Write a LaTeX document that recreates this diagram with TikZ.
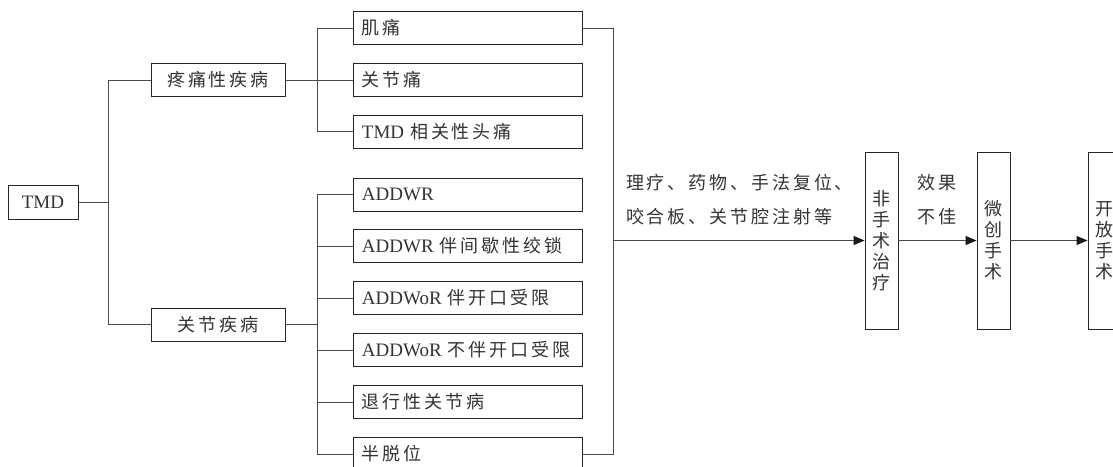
\documentclass[tikz,border=0pt]{standalone}
\usepackage{fontspec}
\setmainfont{Liberation Serif}
\newfontfamily\cjk[LetterSpace=16]{Noto Sans CJK SC}
\usetikzlibrary{arrows.meta,calc}
\newcommand\lat[1]{{\fontsize{19}{21}\selectfont #1}}
\begin{document}
\begin{tikzpicture}[x=1pt,y=-1pt,
 line/.style={draw=black!70, line width=0.9pt},
 box/.style={draw=black!85, line width=0.9pt, rectangle, inner sep=0pt, text=black!80, font=\fontsize{18}{21}\selectfont},
 cbox/.style={box, minimum height=33pt, text width=212pt, inner xsep=8.5pt, align=left, anchor=west},
 vbox/.style={box, minimum width=33pt, minimum height=177pt, align=center, text width=18pt},
 lab/.style={text=black!80, inner sep=0pt, font=\fontsize{18}{34}\selectfont\cjk},
 arr/.style={line, -{Triangle[length=11pt,width=9pt,color=black!90]}}]
\useasboundingbox (0,0) rectangle (1113,466);
\node[box, minimum width=70pt, minimum height=34pt] (tmd) at (43,202) {\lat{TMD}};
\node[box, minimum width=134pt, minimum height=33pt] (pain) at (218,80) {\cjk 疼痛性疾病};
\node[box, minimum width=134pt, minimum height=33pt] (joint) at (218,324.5) {\cjk 关节疾病};
\node[cbox] (c1) at (353,28) {\cjk 肌痛};
\node[cbox] (c2) at (353,80) {\cjk 关节痛};
\node[cbox] (c3) at (353,131.5) {\lat{TMD} {\cjk 相关性头痛}};
\node[cbox] (c4) at (353,194.5) {\lat{ADDWR}};
\node[cbox] (c5) at (353,246) {\lat{ADDWR} {\cjk 伴间歇性绞锁}};
\node[cbox] (c6) at (353,298) {\lat{ADDWoR} {\cjk 伴开口受限}};
\node[cbox] (c7) at (353,350) {\lat{ADDWoR} {\cjk 不伴开口受限}};
\node[cbox] (c8) at (353,402) {\cjk 退行性关节病};
\node[cbox] (c9) at (353,454) {\cjk 半脱位};
\node[vbox] (b1) at (881.5,240.5) {\cjk 非\\手\\术\\治\\疗};
\node[vbox] (b2) at (993.5,240.5) {\cjk 微\\创\\手\\术};
\node[vbox] (b3) at (1104.5,240.5) {\cjk 开\\放\\手\\术};
\node[lab, align=left] (l1) at (739.5,200) {理疗、药物、手法复位、\\咬合板、关节腔注射等};
\node[lab, align=center] (l2) at (937,200) {效果\\不佳};
\draw[line] (tmd.east) -- ++(30,0) coordinate (t1);
\draw[line] (t1) |- (pain.west);
\draw[line] (t1) |- (joint.west);
\draw[line] (pain.east) -- ++(32,0) coordinate (p1);
\foreach \c in {c1,c2,c3} \draw[line] (p1) |- (\c.west);
\draw[line] (joint.east) -- ++(32,0) coordinate (q1);
\foreach \c in {c4,c5,c6,c7,c8,c9} \draw[line] (q1) |- (\c.west);
\draw[line] (c1.east) -- ++(31,0) coordinate (r1);
\draw[line] (c9.east) -- ++(31,0) coordinate (r9);
\draw[line] (r1) -- (r9);
\coordinate (jr) at (r1 |- b1.west);
\draw[arr] (jr) -- (b1.west);
\draw[arr] (b1) -- (b2);
\draw[arr] (b2) -- (b3);
\end{tikzpicture}
\end{document}
